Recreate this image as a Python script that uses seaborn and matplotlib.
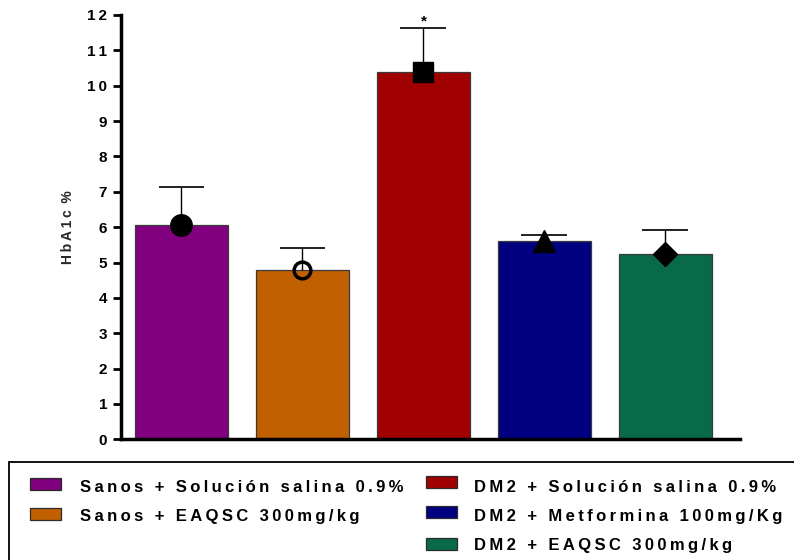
import matplotlib
matplotlib.use("Agg")
import matplotlib.pyplot as plt
from matplotlib.patches import Rectangle
import seaborn as sns
import pandas as pd

# Groups, mean HbA1c (%) and standard error
grupos = [
    "Sanos + Solución salina 0.9%",
    "Sanos + EAQSC 300mg/kg",
    "DM2 + Solución salina 0.9%",
    "DM2 + Metformina 100mg/Kg",
    "DM2 + EAQSC 300mg/kg",
]
hba1c = [6.06, 4.78, 10.39, 5.62, 5.24]
error = [1.07, 0.62, 1.24, 0.16, 0.69]
colores = ["#800080", "#C06000", "#A00000", "#000080", "#086A48"]
marcadores = ["o", "o", "s", "^", "D"]
relleno = [True, False, True, True, True]
tamanos = [15.5, 12, 15, 16, 12.5]
yticks = list(range(0, 13))

sns.set_theme(style="ticks")
plt.rcParams["font.family"] = ["Liberation Sans", "DejaVu Sans"]
plt.rcParams["font.weight"] = "bold"

SP = "\u2009"


def espaciado(texto):
    """Spread the characters of a label apart."""
    return SP.join(texto)


W, H = 794, 560
fig = plt.figure(figsize=(W / 100, H / 100), dpi=100)
x0, x1, ytop, ybot = 121, 740, 15, 439.3
ax = fig.add_axes([x0 / W, 1 - ybot / H, (x1 - x0) / W, (ybot - ytop) / H])

df = pd.DataFrame({"grupo": grupos, "hba1c": hba1c})
sns.barplot(
    data=df, x="grupo", y="hba1c", hue="grupo", palette=colores,
    saturation=1, width=0.77, edgecolor="#3a3a3a", linewidth=0.9,
    errorbar=None, legend=False, ax=ax, zorder=2,
)

# Upper error bars only: stem from the mean up to mean + SE, with a cap
xs = list(range(len(grupos)))
tope = [m + e for m, e in zip(hba1c, error)]
medio_cap = 0.19
ax.vlines(xs, hba1c, tope, color="black", linewidth=1.0, zorder=3)
ax.hlines(tope, [x - medio_cap for x in xs], [x + medio_cap for x in xs],
          color="#202020", linewidth=1.4, zorder=3)

for x, y, m, f, s in zip(xs, hba1c, marcadores, relleno, tamanos):
    ax.plot(
        [x], [y], marker=m, markersize=s, linestyle="none",
        markerfacecolor="black" if f else "none",
        markeredgecolor="black", markeredgewidth=2.5 if not f else 1,
        zorder=4,
    )

ax.text(2, tope[2] - 0.02, "*", ha="center", va="bottom",
        fontsize=11, color="black")

ax.set_xlim(-0.5, 4.616)
ax.set_ylim(0, 12)
ax.set_yticks(yticks)
ax.set_yticklabels([espaciado(str(t)) for t in yticks], fontsize=11,
                   fontweight="bold")
ax.set_xticks([])
ax.set_xlabel("")
ax.set_ylabel(espaciado("HbA1c") + " " + SP + "%", fontsize=10,
              fontweight="bold", labelpad=9)
ax.tick_params(axis="y", length=6, width=2, direction="out",
               colors="black", pad=4)
for lado in ["top", "right"]:
    ax.spines[lado].set_visible(False)
for lado in ["left", "bottom"]:
    ax.spines[lado].set_linewidth(2.5)
    ax.spines[lado].set_color("black")

# Legend: framed box at the bottom, two columns of swatches
fig.patches.append(Rectangle((8.5 / W, -0.05), 1.0, 1 - 462 / H + 0.05,
                             transform=fig.transFigure, fill=False,
                             edgecolor="black", linewidth=1.3))
cajas = [(30, 484), (30, 513.5), (426, 482), (426, 512), (426, 543.5)]
bases = [492, 521, 492, 521, 550]
texto_x = [80, 80, 474, 474, 474]
for (px, py), yb, tx, nombre, c in zip(cajas, bases, texto_x, grupos,
                                       colores):
    fig.patches.append(Rectangle((px / W, 1 - (py + 6) / H), 31 / W, 12 / H,
                                 transform=fig.transFigure, facecolor=c,
                                 edgecolor="#2a2a2a", linewidth=0.9))
    fig.text(tx / W, 1 - yb / H, espaciado(nombre),
             fontsize=12, fontweight="bold", va="baseline", ha="left",
             color="black")

fig.savefig("out.png", dpi=100)
